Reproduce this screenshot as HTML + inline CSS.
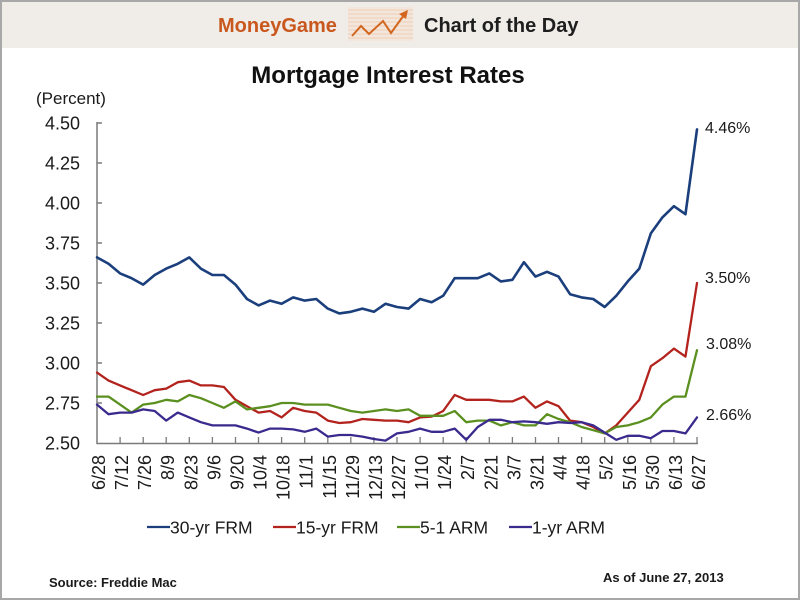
<!DOCTYPE html>
<html>
<head>
<meta charset="utf-8">
<style>
  html,body{margin:0;padding:0;background:#fff;}
  body{width:800px;height:600px;overflow:hidden;}
  svg{display:block;font-family:"Liberation Sans",Arial,sans-serif;}
</style>
</head>
<body>
<svg width="800" height="600" viewBox="0 0 800 600" xmlns="http://www.w3.org/2000/svg">
  <!-- background + header band -->
  <rect x="0" y="0" width="800" height="600" fill="#ffffff"/>
  <rect x="0" y="0" width="800" height="48" fill="#f0ece8"/>
  <rect x="1" y="1" width="798" height="598" fill="none" stroke="#a8a8a8" stroke-width="2"/>

  <!-- header -->
  <text x="218" y="32" font-size="20" font-weight="bold" fill="#c9581e">MoneyGame</text>
  <g>
    <rect x="348" y="7" width="65" height="34" fill="#f3e6dc"/>
    <g stroke="#f0cdb4" stroke-width="1">
      <line x1="348" y1="10" x2="413" y2="10"/>
      <line x1="348" y1="14" x2="413" y2="14"/>
      <line x1="348" y1="18" x2="413" y2="18"/>
      <line x1="348" y1="22" x2="413" y2="22"/>
      <line x1="348" y1="26" x2="413" y2="26"/>
      <line x1="348" y1="30" x2="413" y2="30"/>
      <line x1="348" y1="34" x2="413" y2="34"/>
      <line x1="348" y1="38" x2="413" y2="38"/>
    </g>
    <polyline points="352,36 361,26 369,34 383,21 391,33 404,15" fill="none" stroke="#d2661f" stroke-width="2" stroke-linejoin="miter"/>
    <polygon points="408,10 399,14 406,19" fill="#d2661f"/>
  </g>
  <text x="424" y="32" font-size="20" font-weight="bold" fill="#1e1e1e">Chart of the Day</text>

  <!-- title -->
  <text x="388" y="83" font-size="24" font-weight="bold" fill="#111" text-anchor="middle">Mortgage Interest Rates</text>
  <text x="36" y="104" font-size="17" fill="#1a1a1a">(Percent)</text>

  <!-- y labels -->
  <g font-size="18" fill="#1a1a1a" text-anchor="end">
    <text x="80" y="129.5">4.50</text>
    <text x="80" y="169.5">4.25</text>
    <text x="80" y="209.5">4.00</text>
    <text x="80" y="249.5">3.75</text>
    <text x="80" y="289.5">3.50</text>
    <text x="80" y="329.5">3.25</text>
    <text x="80" y="369.5">3.00</text>
    <text x="80" y="409.5">2.75</text>
    <text x="80" y="449.5">2.50</text>
  </g>

  <!-- axes -->
  <g stroke="#7a7a7a" stroke-width="1.5" fill="none">
    <line x1="97" y1="122" x2="97" y2="444"/>
    <line x1="96.5" y1="443.5" x2="698" y2="443.5"/>
    <line x1="97" y1="123" x2="102" y2="123"/>
    <line x1="97" y1="163" x2="102" y2="163"/>
    <line x1="97" y1="203" x2="102" y2="203"/>
    <line x1="97" y1="243" x2="102" y2="243"/>
    <line x1="97" y1="283" x2="102" y2="283"/>
    <line x1="97" y1="323" x2="102" y2="323"/>
    <line x1="97" y1="363" x2="102" y2="363"/>
    <line x1="97" y1="403" x2="102" y2="403"/>
  </g>
  <g stroke="#7a7a7a" stroke-width="1.3">
    <line x1="120.1" y1="437" x2="120.1" y2="443"/>
    <line x1="143.2" y1="437" x2="143.2" y2="443"/>
    <line x1="166.2" y1="437" x2="166.2" y2="443"/>
    <line x1="189.3" y1="437" x2="189.3" y2="443"/>
    <line x1="212.4" y1="437" x2="212.4" y2="443"/>
    <line x1="235.5" y1="437" x2="235.5" y2="443"/>
    <line x1="258.5" y1="437" x2="258.5" y2="443"/>
    <line x1="281.6" y1="437" x2="281.6" y2="443"/>
    <line x1="304.7" y1="437" x2="304.7" y2="443"/>
    <line x1="327.8" y1="437" x2="327.8" y2="443"/>
    <line x1="350.8" y1="437" x2="350.8" y2="443"/>
    <line x1="373.9" y1="437" x2="373.9" y2="443"/>
    <line x1="397.0" y1="437" x2="397.0" y2="443"/>
    <line x1="420.1" y1="437" x2="420.1" y2="443"/>
    <line x1="443.2" y1="437" x2="443.2" y2="443"/>
    <line x1="466.2" y1="437" x2="466.2" y2="443"/>
    <line x1="489.3" y1="437" x2="489.3" y2="443"/>
    <line x1="512.4" y1="437" x2="512.4" y2="443"/>
    <line x1="535.5" y1="437" x2="535.5" y2="443"/>
    <line x1="558.5" y1="437" x2="558.5" y2="443"/>
    <line x1="581.6" y1="437" x2="581.6" y2="443"/>
    <line x1="604.7" y1="437" x2="604.7" y2="443"/>
    <line x1="627.8" y1="437" x2="627.8" y2="443"/>
    <line x1="650.8" y1="437" x2="650.8" y2="443"/>
    <line x1="673.9" y1="437" x2="673.9" y2="443"/>
    <line x1="697.0" y1="437" x2="697.0" y2="443"/>
  </g>

  <!-- x labels -->
  <g font-size="18" fill="#1a1a1a" text-anchor="end">
    <text transform="translate(105,455) rotate(-90)">6/28</text>
    <text transform="translate(128.1,455) rotate(-90)">7/12</text>
    <text transform="translate(151.2,455) rotate(-90)">7/26</text>
    <text transform="translate(174.2,455) rotate(-90)">8/9</text>
    <text transform="translate(197.3,455) rotate(-90)">8/23</text>
    <text transform="translate(220.4,455) rotate(-90)">9/6</text>
    <text transform="translate(243.5,455) rotate(-90)">9/20</text>
    <text transform="translate(266.5,455) rotate(-90)">10/4</text>
    <text transform="translate(289.6,455) rotate(-90)">10/18</text>
    <text transform="translate(312.7,455) rotate(-90)">11/1</text>
    <text transform="translate(335.8,455) rotate(-90)">11/15</text>
    <text transform="translate(358.8,455) rotate(-90)">11/29</text>
    <text transform="translate(381.9,455) rotate(-90)">12/13</text>
    <text transform="translate(405.0,455) rotate(-90)">12/27</text>
    <text transform="translate(428.1,455) rotate(-90)">1/10</text>
    <text transform="translate(451.2,455) rotate(-90)">1/24</text>
    <text transform="translate(474.2,455) rotate(-90)">2/7</text>
    <text transform="translate(497.3,455) rotate(-90)">2/21</text>
    <text transform="translate(520.4,455) rotate(-90)">3/7</text>
    <text transform="translate(543.5,455) rotate(-90)">3/21</text>
    <text transform="translate(566.5,455) rotate(-90)">4/4</text>
    <text transform="translate(589.6,455) rotate(-90)">4/18</text>
    <text transform="translate(612.7,455) rotate(-90)">5/2</text>
    <text transform="translate(635.8,455) rotate(-90)">5/16</text>
    <text transform="translate(658.8,455) rotate(-90)">5/30</text>
    <text transform="translate(681.9,455) rotate(-90)">6/13</text>
    <text transform="translate(705.0,455) rotate(-90)">6/27</text>
  </g>

  <!-- series -->
  <g transform="matrix(11.53846 0 0 -160 97 843)" fill="none" stroke-linejoin="round" stroke-linecap="round">
    <polyline vector-effect="non-scaling-stroke" stroke="#1b3f7c" stroke-width="2.6"
      points="0,3.66 1,3.62 2,3.56 3,3.53 4,3.49 5,3.55 6,3.59 7,3.62 8,3.66 9,3.59 10,3.55 11,3.55 12,3.49 13,3.40 14,3.36 15,3.39 16,3.37 17,3.41 18,3.39 19,3.40 20,3.34 21,3.31 22,3.32 23,3.34 24,3.32 25,3.37 26,3.35 27,3.34 28,3.40 29,3.38 30,3.42 31,3.53 32,3.53 33,3.53 34,3.56 35,3.51 36,3.52 37,3.63 38,3.54 39,3.57 40,3.54 41,3.43 42,3.41 43,3.40 44,3.35 45,3.42 46,3.51 47,3.59 48,3.81 49,3.91 50,3.98 51,3.93 52,4.46"/>
    <polyline vector-effect="non-scaling-stroke" stroke="#b3231e" stroke-width="2.3"
      points="0,2.94 1,2.89 2,2.86 3,2.83 4,2.80 5,2.83 6,2.84 7,2.88 8,2.89 9,2.86 10,2.86 11,2.85 12,2.77 13,2.73 14,2.69 15,2.70 16,2.66 17,2.72 18,2.70 19,2.69 20,2.64 21,2.625 22,2.63 23,2.65 24,2.645 25,2.64 26,2.64 27,2.63 28,2.66 29,2.665 30,2.70 31,2.80 32,2.77 33,2.77 34,2.77 35,2.76 36,2.76 37,2.79 38,2.72 39,2.76 40,2.73 41,2.64 42,2.63 43,2.60 44,2.56 45,2.61 46,2.69 47,2.77 48,2.98 49,3.03 50,3.09 51,3.04 52,3.50"/>
    <polyline vector-effect="non-scaling-stroke" stroke="#5b9020" stroke-width="2.3"
      points="0,2.79 1,2.79 2,2.74 3,2.69 4,2.74 5,2.75 6,2.77 7,2.76 8,2.80 9,2.78 10,2.75 11,2.72 12,2.76 13,2.71 14,2.72 15,2.73 16,2.75 17,2.75 18,2.74 19,2.74 20,2.74 21,2.72 22,2.70 23,2.69 24,2.70 25,2.71 26,2.70 27,2.71 28,2.67 29,2.67 30,2.67 31,2.70 32,2.63 33,2.64 34,2.64 35,2.61 36,2.63 37,2.61 38,2.61 39,2.68 40,2.65 41,2.63 42,2.60 43,2.58 44,2.56 45,2.60 46,2.61 47,2.63 48,2.66 49,2.74 50,2.79 51,2.79 52,3.08"/>
    <polyline vector-effect="non-scaling-stroke" stroke="#3b2a8e" stroke-width="2.3"
      points="0,2.74 1,2.68 2,2.69 3,2.69 4,2.71 5,2.70 6,2.64 7,2.69 8,2.66 9,2.63 10,2.61 11,2.61 12,2.61 13,2.59 14,2.565 15,2.59 16,2.59 17,2.585 18,2.57 19,2.59 20,2.54 21,2.55 22,2.55 23,2.54 24,2.525 25,2.515 26,2.56 27,2.57 28,2.59 29,2.57 30,2.57 31,2.59 32,2.52 33,2.60 34,2.645 35,2.645 36,2.63 37,2.635 38,2.63 39,2.62 40,2.63 41,2.625 42,2.63 43,2.61 44,2.565 45,2.52 46,2.545 47,2.545 48,2.53 49,2.575 50,2.575 51,2.56 52,2.66"/>
  </g>

  <!-- end labels -->
  <g font-size="16" fill="#1a1a1a">
    <text x="705" y="133">4.46%</text>
    <text x="705" y="283">3.50%</text>
    <text x="706" y="349">3.08%</text>
    <text x="706" y="420">2.66%</text>
  </g>

  <!-- legend -->
  <g stroke-width="2.2">
    <line x1="147" y1="527" x2="170" y2="527" stroke="#1b3f7c"/>
    <line x1="273" y1="527" x2="296" y2="527" stroke="#b3231e"/>
    <line x1="397" y1="527" x2="420" y2="527" stroke="#5b9020"/>
    <line x1="509" y1="527" x2="532" y2="527" stroke="#3b2a8e"/>
  </g>
  <g font-size="17.5" fill="#1a1a1a">
    <text x="170" y="533.5">30-yr FRM</text>
    <text x="296" y="533.5">15-yr FRM</text>
    <text x="420" y="533.5">5-1 ARM</text>
    <text x="532" y="533.5">1-yr ARM</text>
  </g>

  <!-- footer -->
  <text x="49" y="587" font-size="13" font-weight="bold" fill="#1a1a1a">Source: Freddie Mac</text>
  <text x="603" y="582" font-size="13" font-weight="bold" fill="#1a1a1a">As of June 27, 2013</text>
</svg>
</body>
</html>
